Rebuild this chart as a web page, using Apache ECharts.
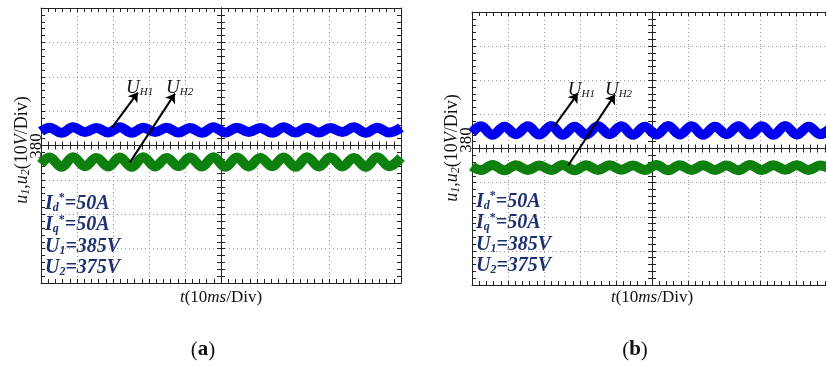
<!DOCTYPE html>
<html>
<head>
<meta charset="utf-8">
<script src="https://cdn.jsdelivr.net/npm/echarts@6/dist/echarts.min.js"></script>
<style>
html, body { margin: 0; padding: 0; background: #fff; }
#chart { width: 826px; height: 365px; }
</style>
</head>
<body>
<div id="chart"></div>
<script>
// time in ms (10ms/Div), ripple extrema
var tA = [0, 2.4, 5.7, 8.9, 12.2, 15.4, 18.7, 21.9, 25.2, 28.4, 31.7, 34.9, 38.2, 41.4, 44.7, 47.9, 51.2,
  54.4, 57.7, 60.9, 64.2, 67.4, 70.7, 73.9, 77.2, 80.4, 83.7, 86.9, 90.2, 93.4, 96.7, 100]
var blueA = [384.1, 385.2, 383.7, 385.3, 383.9, 385.1, 383.8, 385.3, 383.7, 385.2, 383.9, 385.2, 383.8, 385.1, 383.7, 385.3, 383.8,
  385.2, 383.9, 385.1, 383.7, 385.3, 383.8, 385.2, 383.8, 385.1, 383.9, 385.3, 383.7, 385.2, 383.8, 385.2]
var greenA = [374.6, 376.5, 373.8, 376.6, 374.0, 376.4, 373.9, 376.5, 373.8, 376.6, 373.9, 376.4, 374.0, 376.5, 373.9, 376.6, 373.8,
  376.5, 373.9, 376.4, 374.0, 376.5, 373.8, 376.6, 373.9, 376.5, 373.9, 376.4, 373.8, 376.6, 374.0, 376.5]

var tB = [0, 2.5, 5.7, 9.0, 12.2, 15.5, 18.7, 22.0, 25.2, 28.5, 31.7, 35.0, 38.2, 41.5, 44.7, 48.0, 51.2,
  54.5, 57.7, 61.0, 64.2, 67.5, 70.7, 74.0, 77.2, 80.5, 83.7, 87.0, 90.2, 93.5, 96.7, 100.0]
var blueB = [384.6, 386.5, 384.0, 386.4, 384.2, 386.5, 384.1, 386.6, 384.0, 386.4, 384.1, 386.5, 384.2, 386.5, 384.0, 386.4, 384.1,
  386.6, 384.1, 386.5, 384.0, 386.4, 384.2, 386.5, 384.1, 386.5, 384.0, 386.6, 384.1, 386.4, 384.2, 386.5]
var greenB = [374.8, 373.7, 375.2, 373.6, 375.1, 373.7, 375.0, 373.7, 375.2, 373.6, 375.1, 373.7, 375.1, 373.8, 375.0, 373.7, 375.2,
  373.6, 375.1, 373.7, 375.1, 373.7, 375.0, 373.6, 375.2, 373.7, 375.1, 373.8, 375.1, 373.7, 375.0, 373.7]

// axis ranges
var tMin = 0, tMax = 100, tDiv = 10
var vMin = 340, vMax = 420, vDiv = 10

// arrows [tail, head] in (ms, V) and label anchors
var arrowsA = [[[19.7, 385.2], [26.9, 395.4]], [[24.7, 375.1], [37.2, 395.1]]]
var arrowsB = [[[22.8, 386.5], [29.4, 396.1]], [[26.7, 375.0], [39.7, 395.8]]]
var tagsA = [[27.4, 396.8], [38.5, 396.8]]
var tagsB = [[30.4, 397.4], [40.7, 397.4]]
var tagNames = ['{u|U}{s|H1}', '{u|U}{s|H2}']

var serif = 'Liberation Serif'
var lineCol = '#222'
var navy = '#1d2f6f'

function pairs(t, v) {
  return t.map(function (x, i) { return [x, v[i]] })
}

function tickCfg() {
  return {
    axisTick: { show: true, inside: true, length: 4, lineStyle: { color: lineCol, width: 1 } },
    minorTick: { show: true, splitNumber: 5, length: 4, lineStyle: { color: lineCol, width: 1 } }
  }
}

function makeAxes(gi, nameGap) {
  var base = gi * 5
  var dotted = { show: true, lineStyle: { color: '#9a9a9a', width: 1, type: [1, 3] } }
  var xs = []
  var ys = []
  var xCommon = function (extra) {
    return Object.assign({
      gridIndex: gi, type: 'value', min: tMin, max: tMax, interval: tDiv,
      axisLabel: { show: false }, splitLine: { show: false }
    }, tickCfg(), extra)
  }
  var yCommon = function (extra) {
    return Object.assign({
      gridIndex: gi, type: 'value', min: vMin, max: vMax, interval: vDiv,
      axisLabel: { show: false }, splitLine: { show: false }
    }, tickCfg(), extra)
  }
  xs.push(xCommon({
    position: 'bottom',
    axisLine: { show: true, onZero: false, lineStyle: { color: lineCol, width: 1 } },
    splitLine: dotted,
    name: '{i|t}{n|(10}{i|ms}{n|/Div)}',
    nameLocation: 'middle',
    nameGap: nameGap,
    nameTextStyle: {
      color: '#111',
      rich: {
        i: { fontFamily: serif, fontStyle: 'italic', fontSize: 17, lineHeight: 20, color: '#111' },
        n: { fontFamily: serif, fontSize: 17, lineHeight: 20, color: '#111' }
      }
    }
  }))
  xs.push(xCommon({ position: 'top', axisLine: { show: true, onZero: false, lineStyle: { color: lineCol, width: 1 } } }))
  xs.push(xCommon({ position: 'bottom', axisLine: { show: true, onZero: true, onZeroAxisIndex: base + 4, lineStyle: { color: lineCol, width: 1 } } }))
  xs.push(xCommon({ position: 'top', axisLine: { show: true, onZero: true, onZeroAxisIndex: base + 4, lineStyle: { color: lineCol, width: 1 } } }))
  xs.push({ gridIndex: gi, type: 'value', min: -1, max: 1, show: false })

  ys.push(yCommon({ position: 'left', axisLine: { show: true, onZero: false, lineStyle: { color: lineCol, width: 1 } }, splitLine: dotted }))
  ys.push(yCommon({ position: 'right', axisLine: { show: true, onZero: false, lineStyle: { color: lineCol, width: 1 } } }))
  ys.push(yCommon({ position: 'left', axisLine: { show: true, onZero: true, onZeroAxisIndex: base + 4, lineStyle: { color: lineCol, width: 1 } } }))
  ys.push(yCommon({ position: 'right', axisLine: { show: true, onZero: true, onZeroAxisIndex: base + 4, lineStyle: { color: lineCol, width: 1 } } }))
  ys.push({ gridIndex: gi, type: 'value', min: -1, max: 1, show: false })
  return { x: xs, y: ys }
}

function trace(gi, data, color, arrows, tags) {
  var s = {
    type: 'line',
    xAxisIndex: gi * 5,
    yAxisIndex: gi * 5,
    data: data,
    smooth: 0.4,
    showSymbol: false,
    silent: true,
    lineStyle: { color: color, width: 10 },
    itemStyle: { color: color }
  }
  if (arrows) {
    s.markLine = {
      silent: true,
      symbol: ['none', 'arrow'],
      symbolSize: 9,
      label: { show: false },
      lineStyle: { color: '#000', width: 2, type: 'solid' },
      data: arrows.map(function (a) { return [{ coord: a[0] }, { coord: a[1] }] })
    }
    s.markPoint = {
      silent: true,
      symbol: 'circle',
      symbolSize: 1,
      itemStyle: { color: 'rgba(0,0,0,0)' },
      label: {
        show: true,
        position: 'inside',
        formatter: function (p) { return p.name },
        rich: {
          u: { fontFamily: serif, fontStyle: 'italic', fontSize: 19, lineHeight: 20, verticalAlign: 'bottom', color: '#111' },
          s: { fontFamily: serif, fontStyle: 'italic', fontSize: 11, lineHeight: 10, verticalAlign: 'bottom', color: '#111' }
        }
      },
      data: tags.map(function (c, i) { return { name: tagNames[i], coord: c } })
    }
  }
  return s
}

var yRich = {
  i: { fontFamily: serif, fontStyle: 'italic', fontSize: 18, lineHeight: 21, verticalAlign: 'bottom', fill: '#111' },
  n: { fontFamily: serif, fontSize: 18, lineHeight: 21, verticalAlign: 'bottom', fill: '#111' },
  s: { fontFamily: serif, fontStyle: 'italic', fontSize: 12, lineHeight: 12, verticalAlign: 'bottom', fill: '#111' }
}
var pRich = {
  b: { fontFamily: serif, fontStyle: 'italic', fontWeight: 'bold', fontSize: 20, lineHeight: 21.5, verticalAlign: 'bottom', fill: navy },
  s: { fontFamily: serif, fontStyle: 'italic', fontWeight: 'bold', fontSize: 12, lineHeight: 11, verticalAlign: 'bottom', fill: navy },
  p: { fontFamily: serif, fontWeight: 'bold', fontSize: 12, lineHeight: 11, verticalAlign: 'top', fill: navy }
}
var yText = '{i|u}{s|1}{n|,}{i|u}{s|2}{n|(10}{i|V}{n|/Div)}'
var pText = '{b|I}{s|d}{p|*}{b|=50A}\n{b|I}{s|q}{p|*}{b|=50A}\n{b|U}{s|1}{b|=385V}\n{b|U}{s|2}{b|=375V}'

function panelTexts(yx, yy, zx, zy, px, py, lx, tag) {
  return [
    { type: 'text', x: yx, y: yy, rotation: Math.PI / 2, silent: true,
      style: { text: yText, rich: yRich, align: 'center', verticalAlign: 'middle' } },
    { type: 'text', x: zx, y: zy, rotation: Math.PI / 2, silent: true,
      style: { text: '380', fontFamily: serif, fontSize: 17, fill: '#111', align: 'center', verticalAlign: 'middle' } },
    { type: 'text', x: px, y: py, silent: true,
      style: { text: pText, rich: pRich, align: 'left', verticalAlign: 'top' } },
    { type: 'text', x: lx, y: 350, silent: true,
      style: {
        text: '{n|(}{b|' + tag + '}{n|)}', align: 'center', verticalAlign: 'middle',
        rich: {
          n: { fontFamily: serif, fontSize: 21, fill: '#111' },
          b: { fontFamily: serif, fontSize: 21, fontWeight: 'bold', fill: '#111' }
        }
      } }
  ]
}

var axA = makeAxes(0, 5)
var axB = makeAxes(1, 3)

var chart = echarts.init(document.getElementById('chart'), null, { renderer: 'canvas' })
var option = {
  animation: false,
  backgroundColor: '#fff',
  grid: [
    { left: 41, top: 8, width: 360, height: 275, outerBoundsMode: 'none' },
    { left: 472, top: 12, width: 360, height: 273, outerBoundsMode: 'none' }
  ],
  xAxis: axA.x.concat(axB.x),
  yAxis: axA.y.concat(axB.y),
  series: [
    trace(0, pairs(tA, blueA), '#0000f0', arrowsA, tagsA),
    trace(0, pairs(tA, greenA), '#0e800e'),
    trace(1, pairs(tB, blueB), '#0000f0', arrowsB, tagsB),
    trace(1, pairs(tB, greenB), '#0e800e')
  ],
  graphic: panelTexts(21, 150, 37, 146, 45, 192, 203, 'a')
    .concat(panelTexts(451, 148, 467, 140, 476, 190, 635, 'b'))
}
chart.setOption(option)
</script>
</body>
</html>
